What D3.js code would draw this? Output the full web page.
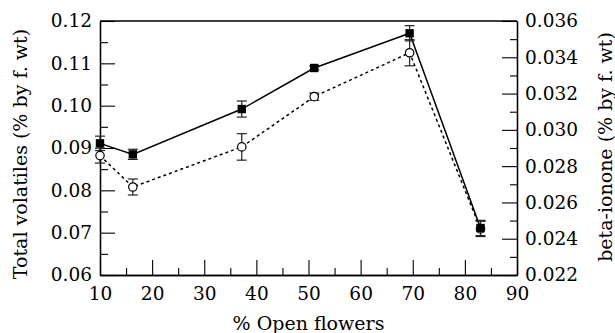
<!DOCTYPE html>
<html>
<head>
<meta charset="utf-8">
<script src="https://cdn.jsdelivr.net/npm/d3@7"></script>
<style>
  body { margin: 0; background: #fff; }
  text { font-family: "DejaVu Serif", serif; fill: #000; }
</style>
</head>
<body>
<script>
"use strict";

// data
const openFlowers = [10, 16.3, 37.2, 51.1, 69.4, 83];
const totalVolatiles = [0.0911, 0.0885, 0.0992, 0.1089, 0.1171, 0.0711];
const totalErr = [0.0017, 0.0012, 0.0019, 0.0005, 0.0018, 0.0018];
const betaIonone = [0.02858, 0.02685, 0.02906, 0.03183, 0.03425, 0.02454];
const betaErr = [0.00041, 0.00044, 0.00073, 0.0002, 0.00072, 0.00042];

const xTicks = [10, 20, 30, 40, 50, 60, 70, 80, 90];
const leftTicks = [0.06, 0.07, 0.08, 0.09, 0.10, 0.11, 0.12];
const rightTicks = [0.022, 0.024, 0.026, 0.028, 0.030, 0.032, 0.034, 0.036];

const W = 615, H = 333;
const margin = {top: 21, left: 100, bottom: 58, right: 98};

const svg = d3.select('body').append('svg')
    .attr('width', W)
    .attr('height', H);

const x = d3.scaleLinear().domain([10, 90]).range([margin.left, W - margin.right]);
const yL = d3.scaleLinear().domain([0.06, 0.12]).range([H - margin.bottom, margin.top]);
const yR = d3.scaleLinear().domain([0.022, 0.036]).range([H - margin.bottom, margin.top]);

const fs = 18.5;

// minor tick helpers
const mids = (arr) => arr.slice(0, -1).map((v, i) => (v + arr[i + 1]) / 2);

const styleAxis = (g) => {
    g.selectAll('path.domain').attr('stroke', '#000').attr('stroke-width', 1.3);
    g.selectAll('.tick line').attr('stroke', '#000').attr('stroke-width', 1.1);
    g.selectAll('text').style('font-size', fs + 'px').attr('fill', '#000');
};

// bottom
svg.append('g')
    .attr('transform', 'translate(0,' + (H - margin.bottom) + ')')
    .call(d3.axisBottom(x).tickValues(mids(xTicks)).tickSize(-7).tickSizeOuter(0).tickFormat(''))
    .call(styleAxis);
svg.append('g')
    .attr('transform', 'translate(0,' + (H - margin.bottom) + ')')
    .call(d3.axisBottom(x).tickValues(xTicks).tickSize(-15).tickSizeOuter(0).tickPadding(12)
	  .tickFormat(d3.format('d')))
    .call(styleAxis);

// left
svg.append('g')
    .attr('transform', 'translate(' + margin.left + ',0)')
    .call(d3.axisLeft(yL).tickValues(mids(leftTicks)).tickSize(-8).tickSizeOuter(0).tickFormat(''))
    .call(styleAxis);
svg.append('g')
    .attr('transform', 'translate(' + margin.left + ',0)')
    .call(d3.axisLeft(yL).tickValues(leftTicks).tickSize(-15).tickSizeOuter(0).tickPadding(8)
	  .tickFormat(d3.format('.2f')))
    .call(styleAxis);

// right
svg.append('g')
    .attr('transform', 'translate(' + (W - margin.right) + ',0)')
    .call(d3.axisRight(yR).tickValues(mids(rightTicks)).tickSize(-7).tickSizeOuter(0).tickFormat(''))
    .call(styleAxis);
svg.append('g')
    .attr('transform', 'translate(' + (W - margin.right) + ',0)')
    .call(d3.axisRight(yR).tickValues(rightTicks).tickSize(-15).tickSizeOuter(0).tickPadding(8)
	  .tickFormat(d3.format('.3f')))
    .call(styleAxis);

// top frame line
svg.append('line')
    .attr('x1', x(10)).attr('x2', x(90))
    .attr('y1', yL(0.12)).attr('y2', yL(0.12))
    .attr('stroke', '#000').attr('stroke-width', 1.3);

// axis titles
svg.append('text')
    .attr('transform', 'translate(27,154) rotate(-90)')
    .attr('text-anchor', 'middle')
    .style('font-size', '19px')
    .text('Total volatiles (% by f. wt)');

svg.append('text')
    .attr('transform', 'translate(612,147) rotate(-90)')
    .attr('text-anchor', 'middle')
    .style('font-size', '19px')
    .text('beta-ionone (% by f. wt)');

svg.append('text')
    .attr('x', (x(10) + x(90)) / 2)
    .attr('y', 330)
    .attr('text-anchor', 'middle')
    .style('font-size', '19px')
    .text('% Open flowers');

// series
const seriesDefs = [
    {vals: betaIonone, errs: betaErr, y: yR, dash: '3,3', marker: 'circle'},
    {vals: totalVolatiles, errs: totalErr, y: yL, dash: null, marker: 'square'}
];

seriesDefs.forEach((s) => {
    const pts = openFlowers.map((v, i) => ({x: v, y: s.vals[i], e: s.errs[i]}));
    const line = d3.line().x((d) => x(d.x)).y((d) => s.y(d.y));
    svg.append('path')
	.datum(pts)
	.attr('d', line)
	.attr('fill', 'none')
	.attr('stroke', '#000')
	.attr('stroke-width', 1.5)
	.attr('stroke-dasharray', s.dash);

    const eb = svg.append('g').selectAll('g')
	.data(pts)
	.enter()
	.append('g')
	.attr('stroke', '#222')
	.attr('stroke-width', 1.2);
    eb.append('line')
	.attr('x1', (d) => x(d.x)).attr('x2', (d) => x(d.x))
	.attr('y1', (d) => s.y(d.y - d.e)).attr('y2', (d) => s.y(d.y + d.e));
    [1, -1].forEach((sg) => {
	eb.append('line')
	    .attr('x1', (d) => x(d.x) - 5).attr('x2', (d) => x(d.x) + 5)
	    .attr('y1', (d) => s.y(d.y + sg * d.e)).attr('y2', (d) => s.y(d.y + sg * d.e));
    });

    if (s.marker === 'circle') {
	svg.append('g').selectAll('circle')
	    .data(pts)
	    .enter()
	    .append('circle')
	    .attr('cx', (d) => x(d.x))
	    .attr('cy', (d) => s.y(d.y))
	    .attr('r', 4.2)
	    .attr('fill', '#fff')
	    .attr('stroke', '#000')
	    .attr('stroke-width', 1.2);
    } else {
	svg.append('g').selectAll('rect')
	    .data(pts)
	    .enter()
	    .append('rect')
	    .attr('x', (d) => x(d.x) - 4.2)
	    .attr('y', (d) => s.y(d.y) - 4.2)
	    .attr('width', 8.4)
	    .attr('height', 8.4)
	    .attr('fill', '#000');
    }
});
</script>
</body>
</html>
